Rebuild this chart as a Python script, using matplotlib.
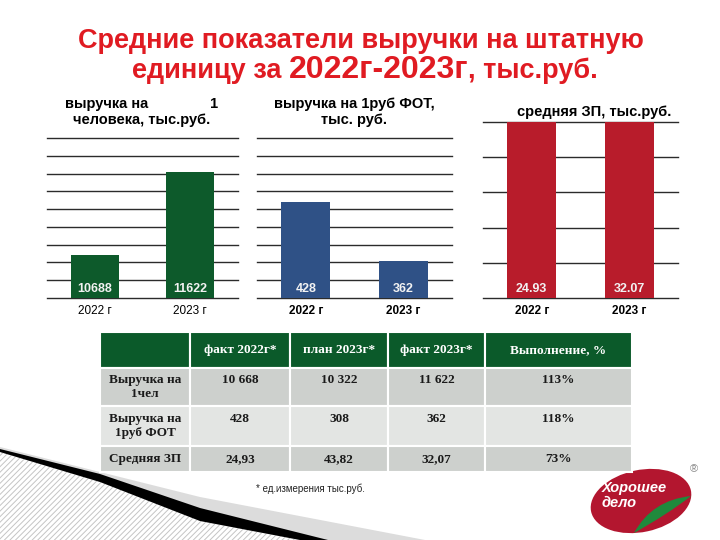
import matplotlib
matplotlib.use('Agg')
import matplotlib.pyplot as plt
import matplotlib.patches as patches
from matplotlib.path import Path
import numpy as np

# данные графиков
years = ['2022 г', '2023 г']
rev_per_person = [10688, 11622]
rev_per_fot = [428, 362]
avg_salary = [24.93, 32.07]

# данные таблицы
col_labels = ['', 'факт 2022г*', 'план 2023г*', 'факт 2023г*', 'Выполнение, %']
row_labels = ['Выручка на\n1чел', 'Выручка на\n1руб ФОТ', 'Средняя ЗП']
fact_2022 = ['10 668', '428', '24,93']
plan_2023 = ['10 322', '308', '43,82']
fact_2023 = ['11 622', '362', '32,07']
completion = ['113%', '118%', '73%']

W, H = 720, 540
plt.rcParams['font.family'] = ['Liberation Sans', 'DejaVu Sans']
fig = plt.figure(figsize=(W / 100, H / 100), dpi=100)
fig.patch.set_facecolor('white')


def box(x0, y0, x1, y1):
    # пиксели (сверху вниз) -> доли фигуры
    return [x0 / W, 1 - y1 / H, (x1 - x0) / W, (y1 - y0) / H]


def fx(x, y):
    return x / W, 1 - y / H


# фоновая декорация снизу слева
bg = fig.add_axes([0, 0, 1, 1], zorder=-5)
bg.set_xlim(0, W)
bg.set_ylim(H, 0)
bg.axis('off')
bg.add_patch(patches.Polygon([(0, 447), (200, 497), (425, 540), (0, 540)],
                             closed=True, facecolor='#dcdcdc', edgecolor='none'))
plt.rcParams['hatch.linewidth'] = 0.7
bg.add_patch(patches.Polygon([(0, 452), (100, 482), (200, 521), (300, 540), (0, 540)],
                             closed=True, facecolor='white', edgecolor='#c4c4c4',
                             hatch='//////', linewidth=0))
bg.add_patch(patches.Polygon([(0, 449), (100, 474), (200, 508), (328, 540),
                              (300, 540), (200, 521), (100, 482), (0, 452)],
                             closed=True, facecolor='black', edgecolor='none'))

# логотип
bg.add_patch(patches.Ellipse((641, 501), 102, 62, angle=-12,
                             facecolor='#b3162f', edgecolor='none'))
leaf = Path([(634, 533), (652, 500), (691, 496), (668, 514), (634, 533)],
            [Path.MOVETO, Path.CURVE3, Path.CURVE3, Path.CURVE3, Path.CURVE3])
bg.add_patch(patches.PathPatch(leaf, facecolor='#1f8a3c', edgecolor='none'))
bg.text(602, 488, 'Хорошее', color='white', fontsize=10.5, fontweight='bold',
        va='center', ha='left', style='italic')
bg.text(602, 503, 'дело', color='white', fontsize=10.5, fontweight='bold',
        va='center', ha='left', style='italic')
bg.text(694, 469, '®', color='#888888', fontsize=8, va='center', ha='center')

# заголовок
title_red = '#e01b22'
fig.text(*fx(361, 41), 'Средние показатели выручки на штатную',
         color=title_red, fontsize=19.5, fontweight='bold', ha='center', va='center')

# вторая строка: годы крупнее
renderer = fig.canvas.get_renderer()
parts = [('единицу за ', 19.5), ('2022г-2023г', 23), (', тыс.руб.', 19.5)]
texts = []
for s, fs in parts:
    t = fig.text(0, 0, s, color=title_red, fontsize=fs, fontweight='bold',
                 ha='left', va='baseline')
    texts.append(t)
widths = [t.get_window_extent(renderer).width for t in texts]
x = 365 - sum(widths) / 2
for t, w in zip(texts, widths):
    t.set_position(fx(x, 78))
    x += w


def bar_chart(rect, values, color, ylim, step, labels, tick_weight):
    ax = fig.add_axes(rect)
    x = np.arange(len(values))
    ax.bar(x, values, width=0.5, color=color, zorder=2)
    ax.set_xlim(-0.5, len(values) - 0.5)
    ax.set_ylim(*ylim)
    ax.set_yticks(np.arange(ylim[0], ylim[1] + step / 2, step))
    ax.yaxis.grid(True, color='#2b2b2b', linewidth=1)
    for gl in ax.get_ygridlines():
        gl.set_clip_on(False)
    ax.set_axisbelow(True)
    ax.tick_params(axis='y', length=0, labelleft=False)
    ax.set_xticks(x)
    ax.set_xticklabels(years, fontsize=8.5, fontweight=tick_weight)
    ax.tick_params(axis='x', length=0, pad=5)
    for s in ax.spines.values():
        s.set_visible(False)
    for xi, lab in zip(x, labels):
        ax.annotate(lab, (xi, ylim[0]), xytext=(0, 2.5), textcoords='offset points',
                    ha='center', va='bottom', color='#f2f2f2',
                    fontsize=9, fontweight='bold')
    ax.patch.set_alpha(0)
    return ax


bar_chart(box(47, 138, 238, 298), rev_per_person, '#0d5a2b', (10200, 12000), 200,
          [str(v) for v in rev_per_person], 'normal')
bar_chart(box(257, 138, 452, 298), rev_per_fot, '#2f5186', (320, 500), 20,
          [str(v) for v in rev_per_fot], 'bold')
bar_chart(box(483, 122, 678, 298), avg_salary, '#b81c2b', (0, 25), 5,
          ['%.2f' % v for v in avg_salary], 'bold')

fig.text(*fx(142, 112), 'выручка на               1\nчеловека, тыс.руб.',
         fontsize=10.5, fontweight='bold', ha='center', va='center', linespacing=1.1)
fig.text(*fx(354, 112), 'выручка на 1руб ФОТ,\nтыс. руб.',
         fontsize=10.5, fontweight='bold', ha='center', va='center', linespacing=1.1)
fig.text(*fx(594, 112), 'средняя ЗП, тыс.руб.',
         fontsize=10.5, fontweight='bold', ha='center', va='center')

# таблица
tax = fig.add_axes(box(100, 332, 632, 472))
tax.axis('off')
cell_text = []
for i in range(len(row_labels)):
    pad = '\n' if '\n' in row_labels[i] else ''
    cell_text.append([row_labels[i], fact_2022[i] + pad, plan_2023[i] + pad,
                      fact_2023[i] + pad, completion[i] + pad])
col_w = [90, 100, 98, 97, 147]
tbl = tax.table(cellText=cell_text, colLabels=col_labels,
                colWidths=[w / sum(col_w) for w in col_w],
                cellLoc='center', bbox=[0, 0, 1, 1])
tbl.auto_set_font_size(False)
row_h = [36, 38, 40, 26]
row_bg = ['#0b5a2a', '#cdd0cd', '#e3e5e3', '#cdd0cd']
for (r, c), cell in tbl.get_celld().items():
    cell.set_height(row_h[r] / sum(row_h))
    cell.set_facecolor(row_bg[r])
    cell.set_edgecolor('white')
    cell.set_linewidth(1.5)
    t = cell.get_text()
    t.set_fontfamily(['Liberation Serif', 'DejaVu Serif'])
    t.set_fontweight('bold')
    t.set_fontsize(9.5)
    t.set_linespacing(1.3)
    t.set_color('white' if r == 0 else '#1a1a1a')

fig.text(*fx(310, 489), '* ед.измерения тыс.руб.', fontsize=7, ha='center',
         va='center', color='#222222')

fig.savefig('out.png', dpi=100, facecolor='white')
